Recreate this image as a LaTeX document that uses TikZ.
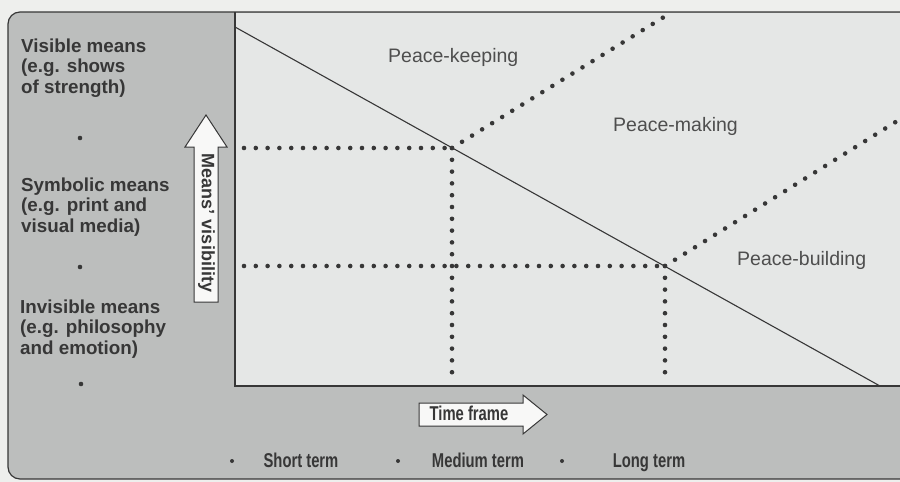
\documentclass[tikz,border=0pt]{standalone}
\usepackage{fontspec}
\setmainfont{Liberation Sans}
\newfontfamily\narrowfont[FakeStretch=0.74]{Liberation Sans}
\definecolor{pagebg}{RGB}{238,239,237}
\definecolor{panel}{RGB}{188,190,189}
\definecolor{plotbg}{RGB}{229,231,230}
\definecolor{ink}{RGB}{55,55,55}
\definecolor{softink}{RGB}{78,78,78}
\definecolor{arrowfill}{RGB}{248,248,247}
\tikzset{
  sidelabel/.style={anchor=west, align=left, inner sep=0pt, text=ink,
    font=\fontsize{18.8}{20.5}\selectfont\bfseries},
  zonelabel/.style={anchor=west, inner sep=0pt, text=softink,
    font=\fontsize{19.5}{22}\selectfont},
  termlabel/.style={inner sep=0pt, anchor=base, text=ink,
    font=\narrowfont\fontsize{20}{22}\selectfont\bfseries},
  dotline/.style={draw=ink, line width=4.6pt, line cap=round, dash pattern=on 0pt off 11.8pt},
  bullet/.style={fill=ink},
  blockarrow/.style={fill=arrowfill, draw=ink, line width=1pt, line join=miter}
}
\begin{document}
\begin{tikzpicture}[x=1pt,y=-1pt]
\useasboundingbox (0,0) rectangle (900,482);
\clip (0,0) rectangle (900,482);
\fill[pagebg] (0,0) rectangle (900,482);
% outer panel
\draw[fill=panel, draw=ink, line width=1.2pt, rounded corners=12pt] (8,12) rectangle (935,479);
% plot area
\fill[plotbg] (235,12.6) rectangle (905,386);
\draw[ink, line width=1.6pt] (235,12) -- (235,386);
\draw[ink, line width=2.4pt] (234.2,386) -- (905,386);
% coordinates
\coordinate (d1) at (235,27);
\coordinate (d2) at (880,386);
\coordinate (h1s) at (244,148);
\coordinate (p1) at (452,148);
\coordinate (p1b) at (452,380);
\coordinate (p1t) at (672,12);
\coordinate (h2s) at (244,266);
\coordinate (p2) at (665,266);
\coordinate (p2b) at (665,380);
\coordinate (p2t) at (910,113);
% diagonal
\draw[ink, line width=1.1pt] (d1) -- (d2);
% dotted lines
\draw[dotline] (h1s) -- (p1);
\draw[dotline] (p1) -- (p1b);
\draw[dotline] (p1) -- (p1t);
\draw[dotline] (h2s) -- (p2);
\draw[dotline] (p2) -- (p2b);
\draw[dotline] (p2) -- (p2t);
% zone labels
\node[zonelabel] (keep) at (388,57) {Peace-keeping};
\node[zonelabel] (make) at (613,126) {Peace-making};
\node[zonelabel] (build) at (737,260) {Peace-building};
% left labels
\node[sidelabel] (vis) at (21,68) {Visible means\\(e.g. shows\\of strength)};
\node[sidelabel] (sym) at (21,207) {Symbolic means\\(e.g. print and\\visual media)};
\node[sidelabel] (inv) at (20,329) {Invisible means\\(e.g. philosophy\\and emotion)};
\fill[bullet] (80,138) circle (2.3);
\fill[bullet] (80,267) circle (2.3);
\fill[bullet] (81,384) circle (2.3);
% vertical arrow
\draw[blockarrow] (194,302) -- (194,147) -- (185,147) -- (206,115) -- (227,147) -- (218,147) -- (218,302) -- cycle;
\node[inner sep=0pt, text=ink, rotate=-90, font=\fontsize{18}{20}\selectfont\bfseries] (mv) at (206.5,223) {Means' visibility};
% horizontal arrow
\draw[blockarrow] (419,403) -- (523,403) -- (523,395) -- (547,414.5) -- (523,434) -- (523,426) -- (419,426) -- cycle;
\node[termlabel] (tf) at (469,420.5) {Time frame};
% bottom terms
\fill[bullet] (232,461) circle (2);
\fill[bullet] (398,461) circle (2);
\fill[bullet] (562,461) circle (2);
\node[termlabel] (st) at (301,467) {Short term};
\node[termlabel] (mt) at (478,467) {Medium term};
\node[termlabel] (lt) at (649,467) {Long term};
\end{tikzpicture}
\end{document}
